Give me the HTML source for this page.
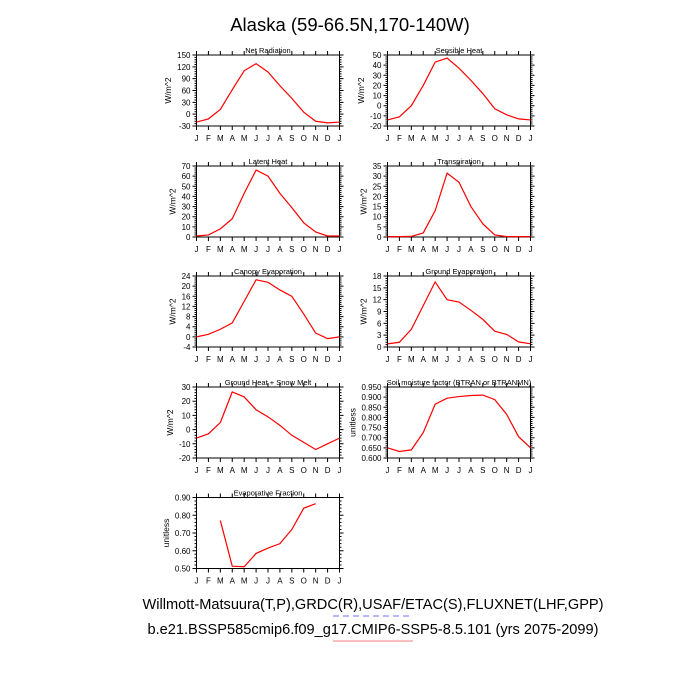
<!DOCTYPE html>
<html><head><meta charset="utf-8"><style>
body{margin:0;background:#fff;}
svg{display:block;font-family:"Liberation Sans",sans-serif;}
</style></head><body>
<svg id="c" width="700" height="700" xmlns="http://www.w3.org/2000/svg">
<text x="350" y="31" font-size="18.5" text-anchor="middle">Alaska (59-66.5N,170-140W)</text>
<text x="373" y="609" font-size="14.6" text-anchor="middle">Willmott-Matsuura(T,P),GRDC(R),USAF/ETAC(S),FLUXNET(LHF,GPP)</text>
<line x1="333" y1="616" x2="413" y2="616" stroke="#6f6fff" stroke-width="1" stroke-dasharray="6,4"/>
<text x="373" y="634" font-size="14.6" text-anchor="middle">b.e21.BSSP585cmip6.f09_g17.CMIP6-SSP5-8.5.101 (yrs 2075-2099)</text>
<line x1="333" y1="641" x2="413" y2="641" stroke="#f08080" stroke-width="1"/>
</svg>
<script>
const months = ["J","F","M","A","M","J","J","A","S","O","N","D","J"];
const netRad = [-20,-12,12,62,110,128,107,72,40,5,-18,-22,-20];
const sensHeat = [-14,-11,0,20,43,47,37,25,12,-3,-9,-13,-14];
const latHeat = [1,2,8,18,43,66,60,43,29,14,5,1,1];
const transp = [0.2,0.2,0.3,2,13,31.5,27,15,6.5,1,0.2,0.2,0.2];
const canopyEvap = [0,1,3,5.5,14,22.5,21.5,18.5,16,9,1.5,-0.7,0];
const groundEvap = [0.8,1.2,4.5,10.5,16.5,12,11.4,9.3,7,4,3.2,1.3,0.8];
const groundHeat = [-6,-3,5,26.5,23,14,9,3,-4,-9,-14,-10,-6];
const soilMoist = [0.65,0.632,0.64,0.725,0.865,0.895,0.903,0.908,0.91,0.888,0.815,0.705,0.65];
const evapFrac = [null,null,0.77,0.513,0.51,0.585,0.615,0.64,0.72,0.84,0.865,null,null];
const ticksNetRad = ["-30","0","30","60","90","120","150"];
const ticksSens = ["-20","-10","0","10","20","30","40","50"];
const ticksLat = ["0","10","20","30","40","50","60","70"];
const ticksTransp = ["0","5","10","15","20","25","30","35"];
const ticksCanopy = ["-4","0","4","8","12","16","20","24"];
const ticksGround = ["0","3","6","9","12","15","18"];
const ticksGHeat = ["-20","-10","0","10","20","30"];
const ticksSoil = ["0.600","0.650","0.700","0.750","0.800","0.850","0.900","0.950"];
const ticksEF = ["0.50","0.60","0.70","0.80","0.90"];

const panels = [
 {name:"net-radiation",title:"Net Radiation",unit:"W/m^2",d:netRad,t:ticksNetRad,x:196.5,y:55},
 {name:"sensible-heat",title:"Sensible Heat",unit:"W/m^2",d:sensHeat,t:ticksSens,x:387.5,y:55},
 {name:"latent-heat",title:"Latent Heat",unit:"W/m^2",d:latHeat,t:ticksLat,x:196.5,y:166},
 {name:"transpiration",title:"Transpiration",unit:"W/m^2",d:transp,t:ticksTransp,x:387.5,y:166},
 {name:"canopy-evaporation",title:"Canopy Evaporation",unit:"W/m^2",d:canopyEvap,t:ticksCanopy,x:196.5,y:276},
 {name:"ground-evaporation",title:"Ground Evaporation",unit:"W/m^2",d:groundEvap,t:ticksGround,x:387.5,y:276},
 {name:"ground-heat",title:"Ground Heat + Snow Melt",unit:"W/m^2",d:groundHeat,t:ticksGHeat,x:196.5,y:387},
 {name:"soil-moisture",title:"Soil moisture factor (BTRAN or BTRANMN)",unit:"unitless",d:soilMoist,t:ticksSoil,x:387.5,y:387},
 {name:"evaporative-fraction",title:"Evaporative Fraction",unit:"unitless",d:evapFrac,t:ticksEF,x:196.5,y:497.5}
];
const W=143,H=71,NS="http://www.w3.org/2000/svg";
const svg=document.getElementById('c');
function mk(tag,attrs,parent){const e=document.createElementNS(NS,tag);for(const k in attrs)e.setAttribute(k,attrs[k]);parent.appendChild(e);return e;}
panels.forEach(p=>{
 const g=mk('g',{},svg);
 
 
 const lo=parseFloat(p.t[0]),hi=parseFloat(p.t[p.t.length-1]);
 const xs=i=>p.x+i*W/12, ys=v=>p.y+H-(v-lo)/(hi-lo)*H;
 const ti=mk('text',{x:p.x+W/2,y:p.y-2,'font-size':7.5,'text-anchor':'middle'},g);
 ti.textContent=p.title;
 
 
 let maxW=0;
 const n=p.t.length-1;
 let tk='';
 p.t.forEach((s,i)=>{
  const Y=p.y+H-i*H/n;
  tk+=`M${p.x},${Y}h-4M${p.x+W},${Y}h4`;
  if(i<n){for(let k=1;k<5;k++){const Ym=Y-k*H/n/5;tk+=`M${p.x},${Ym}h-2M${p.x+W},${Ym}h2`;}}
  const lb=mk('text',{x:p.x-6,y:Y+3,'font-size':8,'text-anchor':'end'},g);
  lb.textContent=s;
  
  
  maxW=Math.max(maxW,lb.getComputedTextLength());
 });
 const yl=mk('text',{x:0,y:0,'font-size':8.5,'text-anchor':'middle',transform:`translate(${p.x-maxW-12},${p.y+H/2}) rotate(-90)`},g);
 yl.textContent=p.unit;
 
 
 months.forEach((m,i)=>{
  const X=xs(i);
  tk+=`M${X},${p.y}v-4M${X},${p.y+H}v4`;
  const lb=mk('text',{x:X,y:p.y+H+15,'font-size':8,'text-anchor':'middle'},g);
  lb.textContent=m;
  
  
 });
 const tp=mk('path',{d:tk,stroke:'#000','stroke-width':1,fill:'none'},g);
 
 
 const fr=mk('rect',{x:p.x,y:p.y,width:W,height:H,fill:'none',stroke:'#000','stroke-width':1},g);
 
 
 let d='',pen=false;
 p.d.forEach((v,i)=>{if(v===null){pen=false;return;}d+=(pen?'L':'M')+xs(i)+','+ys(v);pen=true;});
 const ln=mk('path',{d:d,stroke:'#ff0000','stroke-width':1.2,fill:'none'},g);
 
 
});
</script>
</body></html>
